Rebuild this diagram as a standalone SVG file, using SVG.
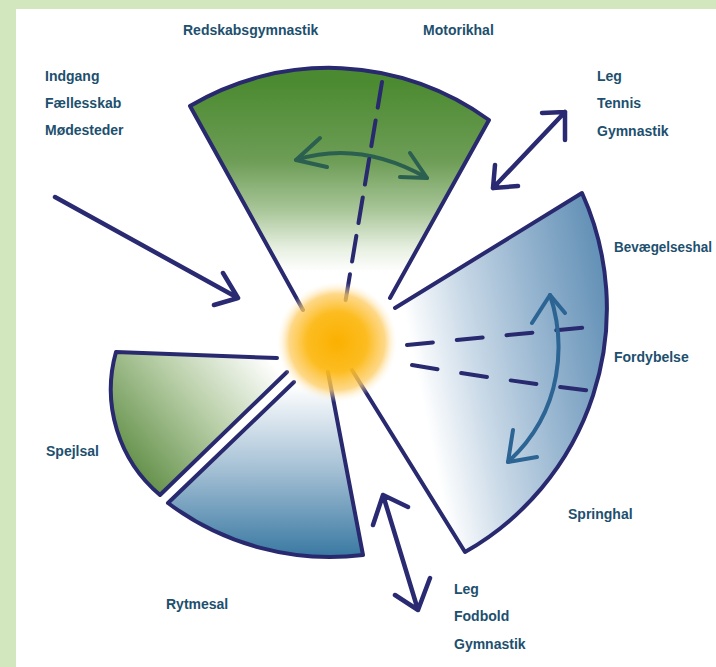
<svg xmlns="http://www.w3.org/2000/svg" width="716" height="667" viewBox="0 0 716 667">
<defs>
<style>
.lbl{font-family:"Liberation Sans",Arial,sans-serif;font-weight:bold;font-size:14px;fill:#1d4f6e}
.edge{fill:none;stroke:#28296e;stroke-width:4;stroke-linecap:round;stroke-linejoin:round}
.nav{fill:none;stroke:#2a2a72;stroke-width:4.5;stroke-linecap:round;stroke-linejoin:round}
.dash{fill:none;stroke:#28296e;stroke-width:4;stroke-linecap:round}
</style>
<linearGradient id="gTop" gradientUnits="userSpaceOnUse" x1="0" y1="80" x2="0" y2="272">
<stop offset="0" stop-color="#4b8a30"/><stop offset="0.42" stop-color="#6d9d56"/><stop offset="0.68" stop-color="#a9c699"/><stop offset="0.88" stop-color="#e8f0e2"/><stop offset="1" stop-color="#ffffff"/>
</linearGradient>
<linearGradient id="gRight" gradientUnits="userSpaceOnUse" x1="412" y1="350" x2="608" y2="310">
<stop offset="0" stop-color="#ffffff"/><stop offset="0.3" stop-color="#c9d9e7"/><stop offset="0.65" stop-color="#95b4cf"/><stop offset="1" stop-color="#6592b7"/>
</linearGradient>
<linearGradient id="gSpejl" gradientUnits="userSpaceOnUse" x1="272" y1="362" x2="130" y2="482">
<stop offset="0" stop-color="#ffffff"/><stop offset="0.45" stop-color="#b9cfa8"/><stop offset="1" stop-color="#5b8a40"/>
</linearGradient>
<linearGradient id="gRytme" gradientUnits="userSpaceOnUse" x1="0" y1="385" x2="0" y2="556">
<stop offset="0" stop-color="#ffffff"/><stop offset="0.5" stop-color="#a3bfd4"/><stop offset="1" stop-color="#3a79a2"/>
</linearGradient>
<linearGradient id="gDashTop" gradientUnits="userSpaceOnUse" x1="0" y1="80" x2="0" y2="310">
<stop offset="0" stop-color="#2f6344"/><stop offset="0.5" stop-color="#2b4a5e"/><stop offset="1" stop-color="#28296e"/>
</linearGradient>
<radialGradient id="gSun" gradientUnits="userSpaceOnUse" cx="337" cy="342" r="60">
<stop offset="0" stop-color="#fbb000"/><stop offset="0.5" stop-color="#fcb915" stop-opacity="0.95"/><stop offset="0.8" stop-color="#fdcb60" stop-opacity="0.75"/><stop offset="1" stop-color="#fff3d8" stop-opacity="0"/>
</radialGradient>
</defs>

<rect x="0" y="0" width="716" height="667" fill="#ffffff"/>
<rect x="0" y="0" width="716" height="9" fill="#d3e7bf"/>
<rect x="0" y="0" width="16" height="667" fill="#d3e7bf"/>

<g id="redskabsgymnastik">
<path d="M190,106 A272,272 0 0,1 489,120 L390,298 L345,330 L303,310 Z" fill="url(#gTop)"/>
<path class="edge" d="M303,310 L190,106 A272,272 0 0,1 489,120 L390,298"/>
<path d="M296,160 Q360,140 427,178" fill="none" stroke="#2b5f50" stroke-width="4" stroke-linecap="round"/>
<path d="M320,138 L296,160 L327,167 M410,153 L427,178 L400,177" fill="none" stroke="#2b5f50" stroke-width="4" stroke-linecap="round" stroke-linejoin="round"/>
</g>

<g id="bevaegelseshal">
<path d="M395,308 L582,193 A280,280 0 0,1 465,552 L352,370 Z" fill="url(#gRight)"/>
<path class="edge" d="M395,308 L582,193 A280,280 0 0,1 465,552 L352,370"/>
<path class="dash" d="M407,345 L600,326" stroke-dasharray="26 24"/>
<path class="dash" d="M412,365 Q500,380 592,391" stroke-dasharray="26 24"/>
<path d="M550,295 C565,340 565,410 508,462" fill="none" stroke="#2c6494" stroke-width="4" stroke-linecap="round"/>
<path d="M532,323 L550,295 L565,313 M513,430 L508,462 L537,457" fill="none" stroke="#2c6494" stroke-width="4" stroke-linecap="round" stroke-linejoin="round"/>
</g>

<g id="spejlsal">
<path d="M277,358 L116,352 A138,138 0 0,0 160,495 L287,372 Z" fill="url(#gSpejl)"/>
<path class="edge" d="M277,358 L116,352 A138,138 0 0,0 160,495 L287,372"/>
</g>

<g id="rytmesal">
<path d="M294,382 L168,503 A270,270 0 0,0 363,555 L328,372 Z" fill="url(#gRytme)"/>
<path class="edge" d="M294,382 L168,503 A270,270 0 0,0 363,555 L328,372"/>
</g>

<g id="connectors">
<path class="dash" d="M382,82 L344,310" stroke="url(#gDashTop)" stroke-dasharray="26 13"/>
<path class="nav" d="M55,197 L238,298 M223,273 L238,298 L214,305"/>
<path class="nav" d="M493,188 L565,112 M542,113 L565,112 L565,140 M495,165 L493,188 L518,186"/>
<path class="nav" d="M383,495 L418,610 M373,525 L383,495 L408,507 M395,595 L418,610 L430,578"/>
</g>

<g id="sun">
<circle cx="337" cy="342" r="60" fill="url(#gSun)"/>
</g>

<g id="labels">
<text class="lbl" x="183" y="35">Redskabsgymnastik</text>
<text class="lbl" x="423" y="35">Motorikhal</text>
<text class="lbl" x="45" y="81">Indgang</text>
<text class="lbl" x="45" y="108">Fællesskab</text>
<text class="lbl" x="45" y="135">Mødesteder</text>
<text class="lbl" x="597" y="81">Leg</text>
<text class="lbl" x="597" y="108">Tennis</text>
<text class="lbl" x="597" y="136">Gymnastik</text>
<text class="lbl" x="614" y="252" textLength="98" lengthAdjust="spacingAndGlyphs">Bevægelseshal</text>
<text class="lbl" x="614" y="362">Fordybelse</text>
<text class="lbl" x="568" y="519">Springhal</text>
<text class="lbl" x="46" y="456">Spejlsal</text>
<text class="lbl" x="166" y="609">Rytmesal</text>
<text class="lbl" x="454" y="594">Leg</text>
<text class="lbl" x="454" y="621">Fodbold</text>
<text class="lbl" x="454" y="649">Gymnastik</text>
</g>
</svg>
